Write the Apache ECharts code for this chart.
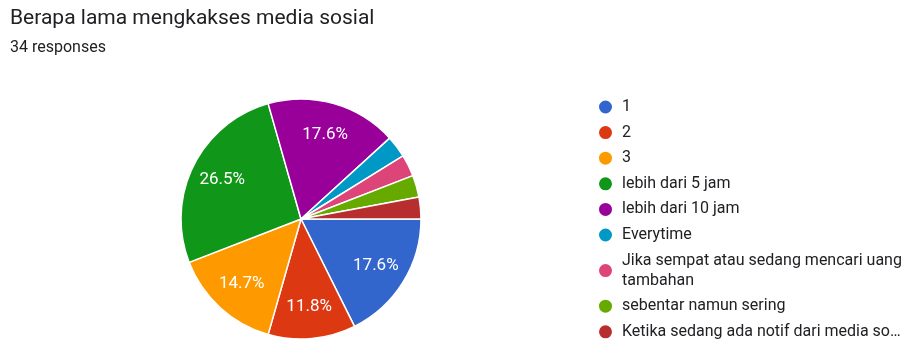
<!DOCTYPE html>
<html><head><meta charset="utf-8">
<script src="https://cdn.jsdelivr.net/npm/echarts@6/dist/echarts.min.js"></script>
<style>html,body{margin:0;padding:0;background:#fff}#c{width:913px;height:339px}</style>
</head><body><div id="c"></div>
<script>
var categories = ['1','2','3','lebih dari 5 jam','lebih dari 10 jam','Everytime','Jika sempat atau sedang mencari uang tambahan','sebentar namun sering','Ketika sedang ada notif dari media sosial'];
var counts = [6,4,5,9,6,1,1,1,1];
var colors = ['#3366cc','#dc3912','#ff9900','#109618','#990099','#0099c6','#dd4477','#66aa00','#b82e2e'];
var titleText = 'Berapa lama mengkakses media sosial';
var subtitleText = '34 responses';

var total = counts.reduce(function(a,b){return a+b;},0);
var data = categories.map(function(n,i){return {name:n,value:counts[i],itemStyle:{color:colors[i]}};});
var chart = echarts.init(document.getElementById('c'));
chart.setOption({
  animation:false,
  title:[
    {text:titleText,left:5,top:3,textStyle:{fontFamily:'Roboto',fontSize:21,fontWeight:'normal',color:'#202124'}},
    {text:subtitleText,left:5,top:35,textStyle:{fontFamily:'Roboto',fontSize:16,fontWeight:'normal',color:'#202124'}}
  ],
  legend:{
    orient:'vertical',left:592,top:92,height:500,icon:'circle',itemWidth:15,itemHeight:15,itemGap:5.6,
    data:categories.map(function(n,i){return {name:n,itemStyle:{color:colors[i]}};}),
    textStyle:{fontFamily:'Roboto',fontSize:16,color:'#202124',lineHeight:20,padding:[0,0,0,4]},
    formatter:function(n){
      if(n.indexOf('Jika')===0) return 'Jika sempat atau sedang mencari uang\ntambahan';
      if(n.indexOf('Ketika')===0) return 'Ketika sedang ada notif dari media so…';
      return n;
    },
    selectedMode:false
  },
  series:[
    {type:'pie',center:[301,219],radius:[0,120],startAngle:0,clockwise:true,
     itemStyle:{borderColor:'#fff',borderWidth:1.5},label:{show:false},labelLine:{show:false},
     data:data},
    {type:'pie',center:[301,219],radius:[0,170],startAngle:0,clockwise:true,silent:true,legendHoverLink:false,
     itemStyle:{color:'rgba(0,0,0,0)',borderWidth:0},labelLine:{show:false},
     label:{show:true,position:'inside',fontFamily:'Roboto',fontSize:17,color:'#fff',
       formatter:function(p){var v=p.value/total*100;return v<5?'':v.toFixed(1)+'%';}},
     data:categories.map(function(n,i){return {name:n,value:counts[i]};})}
  ]
});
</script></body></html>
